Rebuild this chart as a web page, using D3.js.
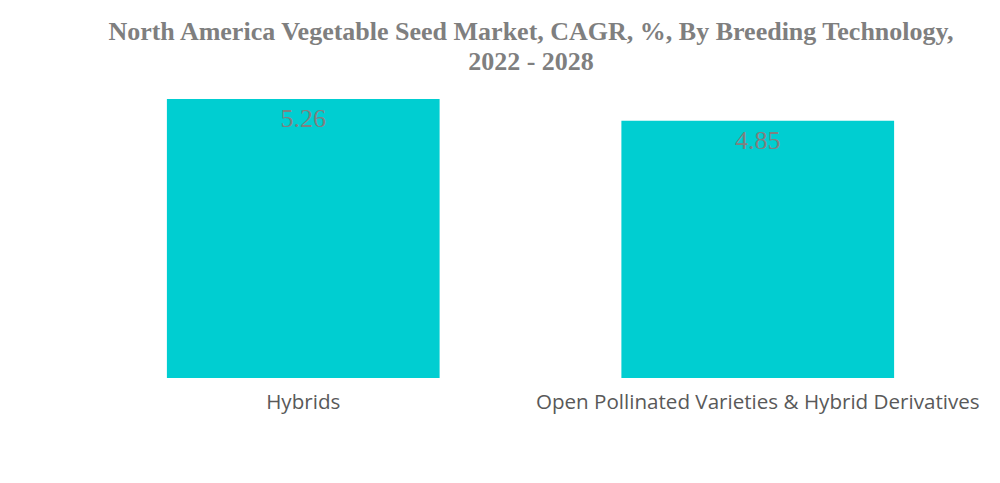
<!DOCTYPE html>
<html>
<head>
<meta charset="utf-8">
<script src="https://cdn.jsdelivr.net/npm/d3@7"></script>
<style>
  body { margin: 0; background: #fff; }
</style>
</head>
<body>
<div id="chart"></div>
<script>
var titleLines = ["North America Vegetable Seed Market, CAGR, %, By Breeding Technology,", "2022 - 2028"];
var categories = ["Hybrids", "Open Pollinated Varieties & Hybrid Derivatives"];
var values = [5.26, 4.85];

var width = 1000, height = 483;

var svg = d3.select("#chart").append("svg")
    .attr("width", width)
    .attr("height", height);

svg.selectAll(".title")
    .data(titleLines)
  .enter().append("text")
    .attr("class", "title")
    .attr("x", 531)
    .attr("y", function(d, i) { return 40 + i * 30; })
    .attr("text-anchor", "middle")
    .style("font-family", "'Liberation Serif', serif")
    .style("font-weight", "bold")
    .style("font-size", "26px")
    .style("fill", "#7f7f7f")
    .text(function(d) { return d; });

var x = d3.scaleBand()
    .domain(categories)
    .range([76, 985])
    .paddingInner(0.4)
    .paddingOuter(0.2);

var y = d3.scaleLinear()
    .domain([0, 5.26])
    .range([378, 99]);

svg.selectAll(".bar")
    .data(values)
  .enter().append("rect")
    .attr("class", "bar")
    .attr("x", function(d, i) { return x(categories[i]); })
    .attr("y", function(d) { return y(d); })
    .attr("width", x.bandwidth())
    .attr("height", function(d) { return y(0) - y(d); })
    .style("fill", "#00ced1");

svg.selectAll(".val")
    .data(values)
  .enter().append("text")
    .attr("class", "val")
    .attr("x", function(d, i) { return x(categories[i]) + x.bandwidth() / 2; })
    .attr("y", function(d) { return y(d) + 28; })
    .attr("text-anchor", "middle")
    .style("font-family", "'Liberation Serif', serif")
    .style("font-size", "26px")
    .style("fill", "#808080")
    .text(function(d) { return d.toFixed(2); });

var xAxis = svg.append("g")
    .attr("transform", "translate(0,378)")
    .call(d3.axisBottom(x).tickSize(0).tickPadding(16));
xAxis.select(".domain").remove();
xAxis.selectAll("text")
    .style("font-family", "'Source Sans Pro', 'Open Sans', sans-serif")
    .style("font-size", "20.6px")
    .style("fill", "#595959");
</script>
</body>
</html>
